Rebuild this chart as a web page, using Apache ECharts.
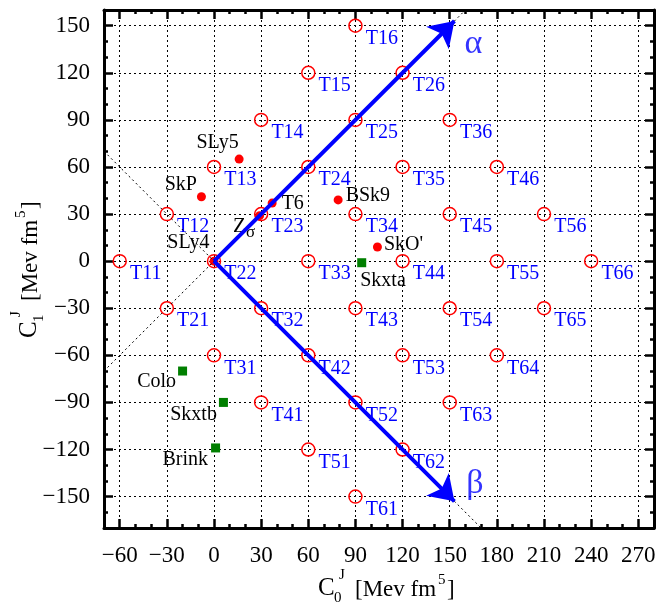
<!DOCTYPE html>
<html>
<head>
<meta charset="utf-8">
<script src="https://cdn.jsdelivr.net/npm/echarts@6/dist/echarts.min.js"></script>
<style>
html, body { margin: 0; padding: 0; background: #fff; }
#chart { width: 662px; height: 605px; }
</style>
</head>
<body>
<div id="chart"></div>
<script>
/* axis ticks */
var xTicks = [-60, -30, 0, 30, 60, 90, 120, 150, 180, 210, 240, 270];
var yTicks = [-150, -120, -90, -60, -30, 0, 30, 60, 90, 120, 150];

/* T_ij grid points */
var tNames = ['T11', 'T12', 'T13', 'T14', 'T15', 'T16',
	'T21', 'T22', 'T23', 'T24', 'T25', 'T26',
	'T31', 'T32', 'T33', 'T34', 'T35', 'T36',
	'T41', 'T42', 'T43', 'T44', 'T45', 'T46',
	'T51', 'T52', 'T53', 'T54', 'T55', 'T56',
	'T61', 'T62', 'T63', 'T64', 'T65', 'T66'];
var tC0 = [-60, -30, 0, 30, 60, 90,
	-30, 0, 30, 60, 90, 120,
	0, 30, 60, 90, 120, 150,
	30, 60, 90, 120, 150, 180,
	60, 90, 120, 150, 180, 210,
	90, 120, 150, 180, 210, 240];
var tC1 = [0, 30, 60, 90, 120, 150,
	-30, 0, 30, 60, 90, 120,
	-60, -30, 0, 30, 60, 90,
	-90, -60, -30, 0, 30, 60,
	-120, -90, -60, -30, 0, 30,
	-150, -120, -90, -60, -30, 0];

/* Skyrme forces (red dots) */
var dotNames = ['SLy5', 'SkP', 'T6', 'Zσ', 'SLy4', 'BSk9', "SkO'"];
var dotC0 = [16, -8, 37, 29, 0, 79, 104];
var dotC1 = [65, 41, 37, 29, 0, 39, 9];

/* other forces (green squares) */
var sqNames = ['Skxta', 'Colo', 'Skxtb', 'Brink'];
var sqC0 = [94, -20, 6, 1];
var sqC1 = [-1, -70, -90, -119];

/* alpha / beta directions */
var alphaEnd = [153, 153];
var betaEnd = [153, -153];
var alphaLine = [[-70, -70], [160, 160]];
var betaLine = [[-70, 70], [170, -170]];
var greek = [[165, 138, 'α'], [166, -142, 'β']];

/* label placement for the force labels */
var place = {
	'SLy5': { position: 'left', distance: -4, offset: [0, -16] },
	'SkP': { position: 'left', distance: 0, offset: [0, -12] },
	'T6': { position: 'right', distance: 5, offset: [0, 1] },
	'Zσ': { position: 'left', distance: 0, offset: [0, 13] },
	'SLy4': { position: 'left', distance: 0, offset: [0, -18] },
	'BSk9': { position: 'right', distance: 3, offset: [0, -4] },
	"SkO'": { position: 'right', distance: 2, offset: [0, -2] },
	'Skxta': { position: 'right', distance: 0, offset: [-6, 18] },
	'Colo': { position: 'left', distance: 2, offset: [0, 11] },
	'Skxtb': { position: 'left', distance: 2, offset: [0, 12] },
	'Brink': { position: 'left', distance: 3, offset: [0, 12] }
};

var FONT = 'Liberation Serif';
var BLUE = '#0000ff';

function minus(v) {
	return String(v).replace('-', '\u2212');
}

function pts(names, xs, ys) {
	return names.map(function(n, i) {
		var item = { name: n, value: [xs[i], ys[i]] };
		if (place[n]) item.label = place[n];
		return item;
	});
}

function mainAxis(pos, ticks, range, isX, labels) {
	return {
		type: 'value', position: pos, min: range[0], max: range[1],
		axisLine: { onZero: false, lineStyle: { color: '#000', width: 3 } },
		axisTick: { inside: true, length: 9, customValues: ticks, lineStyle: { color: '#000', width: 2.5 } },
		axisLabel: labels ? {
			customValues: ticks, formatter: minus, color: '#000',
			fontFamily: FONT, fontSize: 23, margin: isX ? 16 : 14
		} : { show: false },
		splitLine: { show: labels, lineStyle: { color: '#000', width: 1, type: [2, 3] } }
	};
}

function minorAxis(pos, range) {
	return {
		type: 'value', position: pos, min: range[0], max: range[1], interval: 10,
		axisLine: { show: false, onZero: false },
		axisTick: { inside: true, length: 4, lineStyle: { color: '#000', width: 2.5 } },
		axisLabel: { show: false },
		splitLine: { show: false }
	};
}

var xRange = [-70, 280];
var yRange = [-170, 160];

function titleParts(sub) {
	return [
		{ t: 'C', x: 0, y: 0, s: 25 },
		{ t: 'J', x: 21, y: -13, s: 15 },
		{ t: sub, x: 16, y: 10, s: 15 },
		{ t: '[Mev fm', x: 37, y: 2, s: 23 },
		{ t: '5', x: 120, y: -8, s: 15 },
		{ t: ']', x: 129, y: 2, s: 23 }
	].map(function(p) {
		return {
			type: 'text', x: p.x, y: p.y,
			style: { text: p.t, fill: '#000', font: p.s + 'px "' + FONT + '"', verticalAlign: 'middle', align: 'left' }
		};
	});
}

var option = {
	animation: false,
	backgroundColor: '#fff',
	grid: { left: 104, right: 8, top: 10, bottom: 77, outerBoundsMode: 'none' },
	xAxis: [
		mainAxis('bottom', xTicks, xRange, true, true),
		minorAxis('bottom', xRange),
		mainAxis('top', xTicks, xRange, true, false),
		minorAxis('top', xRange)
	],
	yAxis: [
		mainAxis('left', yTicks, yRange, false, true),
		minorAxis('left', yRange),
		mainAxis('right', yTicks, yRange, false, false),
		minorAxis('right', yRange)
	],
	graphic: [
		{ type: 'group', x: 318, y: 588, children: titleParts('0') },
		{ type: 'group', x: 29, y: 338, rotation: Math.PI / 2, children: titleParts('1') }
	],
	series: [
		{
			type: 'line', data: alphaLine, showSymbol: false, silent: true,
			lineStyle: { color: '#000', width: 1, type: [2, 3] },
			markLine: {
				silent: true, symbol: ['none', 'arrow'], symbolSize: 24,
				lineStyle: { color: BLUE, width: 4, type: 'solid', opacity: 1 },
				label: { show: false },
				data: [
					[{ coord: [0, 0] }, { coord: alphaEnd }],
					[{ coord: [0, 0] }, { coord: betaEnd }]
				]
			}
		},
		{
			type: 'line', data: betaLine, showSymbol: false, silent: true,
			lineStyle: { color: '#000', width: 1, type: [2, 3] }
		},
		{
			type: 'scatter', silent: true, symbol: 'circle', symbolSize: 13,
			itemStyle: { color: 'rgba(0,0,0,0)', borderColor: '#ff0000', borderWidth: 1.5, opacity: 1 },
			label: {
				show: true, formatter: '{b}', position: 'right', distance: 3, offset: [0, 13],
				color: BLUE, fontFamily: FONT, fontSize: 20
			},
			data: pts(tNames, tC0, tC1)
		},
		{
			type: 'scatter', silent: true, symbol: 'circle', symbolSize: 9,
			itemStyle: { color: '#ff0000', opacity: 1 },
			label: {
				show: true, color: '#000', fontFamily: FONT, fontSize: 20,
				formatter: function(p) {
					return p.name === 'Zσ' ? '{z|Z}{s|σ}' : p.name;
				},
				rich: {
					z: { fontFamily: FONT, fontSize: 21, color: '#000', verticalAlign: 'top' },
					s: { fontFamily: FONT, fontSize: 17, color: '#000', verticalAlign: 'bottom', padding: [8, 0, 0, 0] }
				}
			},
			data: pts(dotNames, dotC0, dotC1)
		},
		{
			type: 'scatter', silent: true, symbol: 'rect', symbolSize: 9,
			itemStyle: { color: '#007f00', opacity: 1 },
			label: { show: true, formatter: '{b}', color: '#000', fontFamily: FONT, fontSize: 20 },
			data: pts(sqNames, sqC0, sqC1)
		},
		{
			type: 'scatter', silent: true, symbolSize: 0,
			label: {
				show: true, position: 'inside', color: BLUE, fontFamily: FONT, fontSize: 34,
				formatter: function(p) { return p.value[2]; }
			},
			data: greek
		}
	]
};

var chart = echarts.init(document.getElementById('chart'));
chart.setOption(option);
</script>
</body>
</html>
